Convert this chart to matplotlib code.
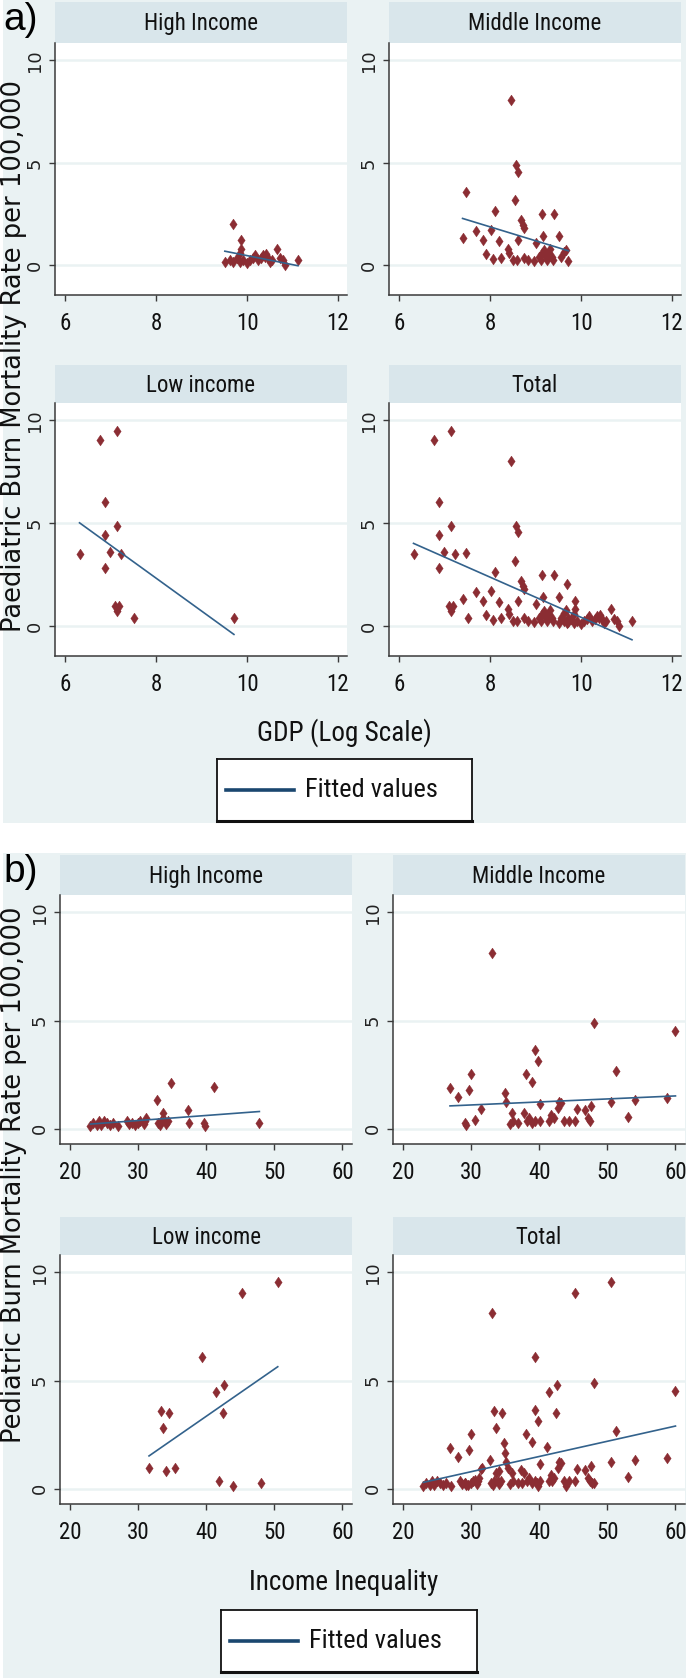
import numpy as np
import matplotlib
matplotlib.use("Agg")
import matplotlib.pyplot as plt
from matplotlib.patches import Rectangle
from matplotlib import font_manager as fm

# ---- data ----
# a) GDP (log scale) vs paediatric burn mortality
gdp_high_x = [9.69, 9.87, 9.86, 9.84, 9.51, 9.62, 9.69, 9.77, 9.84, 9.91, 9.99, 10.06, 10.13, 10.17,
              10.24, 10.31, 10.35, 10.39, 10.42, 10.46, 10.50, 10.54, 10.65, 10.72, 10.79, 10.83, 11.12]
gdp_high_y = [2.03, 1.22, 0.81, 0.57, 0.16, 0.24, 0.16, 0.33, 0.16, 0.24, 0.08, 0.24, 0.33, 0.49,
              0.24, 0.33, 0.49, 0.41, 0.53, 0.33, 0.16, 0.24, 0.81, 0.33, 0.24, 0.00, 0.24]
gdp_mid_x = [7.39, 7.47, 7.68, 7.83, 7.90, 8.01, 8.05, 8.10, 8.20, 8.23, 8.38, 8.42, 8.45, 8.49, 8.55,
             8.56, 8.60, 8.62, 8.58, 8.67, 8.72, 8.75, 8.75, 8.82, 8.97, 9.00, 9.08, 9.14, 9.16, 9.12,
             9.15, 9.19, 9.22, 9.25, 9.28, 9.32, 9.35, 9.38, 9.41, 9.52, 9.55, 9.62, 9.66, 9.72]
gdp_mid_y = [1.30, 3.55, 1.67, 1.22, 0.54, 1.71, 0.29, 2.65, 1.19, 0.37, 0.81, 0.57, 8.05, 0.24, 3.17,
             4.88, 1.22, 4.55, 0.24, 2.20, 1.95, 1.79, 0.37, 0.24, 0.21, 1.09, 0.41, 2.49, 1.41, 0.24,
             0.57, 0.75, 0.41, 0.24, 0.57, 0.80, 0.41, 0.24, 2.49, 1.41, 0.41, 0.65, 0.76, 0.21]
gdp_low_x = [6.31, 6.75, 6.88, 6.87, 6.88, 6.99, 7.13, 7.13, 7.23, 7.10, 7.17, 7.13, 7.51, 9.71]
gdp_low_y = [3.50, 9.06, 6.02, 4.44, 2.83, 3.58, 9.50, 4.86, 3.50, 0.96, 0.96, 0.72, 0.39, 0.39]
# fitted line end points: (x0, x1), (y0, y1)
gdp_fit = {
    "High Income": ([9.51, 11.12], [0.68, -0.03]),
    "Middle Income": ([7.39, 9.72], [2.28, 0.70]),
    "Low income": ([6.31, 9.71], [5.02, -0.41]),
    "Total": ([6.31, 11.12], [4.02, -0.67]),
}

# b) income inequality vs pediatric burn mortality
ineq_high_x = [23.0, 23.4, 23.9, 24.3, 24.6, 25.0, 25.4, 25.8, 26.3, 27.1, 28.3, 28.6, 29.1, 29.6, 30.0,
               30.3, 30.8, 31.0, 31.2, 32.7, 32.9, 33.2, 33.4, 33.7, 33.9, 34.1, 34.4, 34.8, 37.3, 37.5,
               39.6, 39.8, 41.2, 47.8]
ineq_high_y = [0.14, 0.26, 0.20, 0.34, 0.20, 0.34, 0.26, 0.20, 0.26, 0.14, 0.34, 0.22, 0.26, 0.18, 0.28,
               0.34, 0.22, 0.34, 0.50, 1.31, 0.26, 0.18, 0.34, 0.72, 0.34, 0.22, 0.34, 2.14, 0.85, 0.29,
               0.26, 0.14, 1.95, 0.29]
ineq_mid_x = [26.9, 28.0, 29.1, 29.3, 29.7, 30.0, 30.5, 31.4, 33.1, 35.0, 35.1, 35.7, 36.0, 36.2, 36.9,
              37.8, 38.0, 38.2, 38.5, 38.9, 38.9, 39.4, 39.4, 39.8, 40.1, 40.1, 41.4, 41.8, 42.2, 42.7,
              42.9, 43.2, 43.7, 44.3, 45.3, 45.6, 46.7, 47.1, 47.5, 47.6, 48.1, 50.5, 51.3, 53.0, 54.0,
              58.8, 60.0]
ineq_mid_y = [1.88, 1.46, 0.29, 0.18, 1.80, 2.52, 0.42, 0.91, 8.10, 1.65, 1.26, 0.22, 0.72, 0.34, 0.26,
              0.72, 2.52, 0.34, 0.49, 2.18, 0.26, 3.65, 0.34, 3.15, 1.15, 0.34, 0.34, 0.65, 0.49, 0.95,
              1.26, 1.18, 0.34, 0.34, 0.34, 0.91, 0.88, 0.49, 0.34, 1.06, 4.90, 1.26, 2.69, 0.54, 1.31,
              1.42, 4.52]
ineq_low_x = [50.5, 45.2, 39.4, 42.6, 41.5, 42.5, 33.3, 34.5, 33.6, 31.6, 34.1, 35.4, 41.9, 43.9, 48.1]
ineq_low_y = [9.55, 9.05, 6.07, 4.78, 4.47, 3.49, 3.59, 3.49, 2.80, 0.95, 0.82, 0.98, 0.36, 0.12, 0.28]
ineq_fit = {
    "High Income": ([23.0, 47.8], [0.22, 0.80]),
    "Middle Income": ([26.9, 60.0], [1.06, 1.52]),
    "Low income": ([31.6, 50.5], [1.52, 5.64]),
    "Total": ([23.0, 60.0], [0.30, 2.90]),
}

groups = ["High Income", "Middle Income", "Low income", "Total"]
gdp_ticks = [6, 8, 10, 12]
ineq_ticks = [20, 30, 40, 50, 60]
y_ticks = [0, 5, 10]

# ---- style ----
BG = "#EAF2F3"
STRIP = "#D9E6EB"
MARK = "#8B2D33"
LINE = "#33628C"
AXC = "#3a3a3a"
WIDE = "DejaVu Sans"
diamond = [(0, 1), (0.68, 0), (0, -1), (-0.68, 0), (0, 1)]


# look for a narrow / condensed sans face, otherwise shrink Liberation Sans
def find_narrow():
    prefs = ["Liberation Sans Narrow", "Arial Narrow", "Roboto Condensed", "Open Sans Condensed",
             "Noto Sans Condensed", "DejaVu Sans Condensed"]
    entries = fm.fontManager.ttflist
    for p in prefs:
        for f in entries:
            if f.name == p and f.style == "normal" and str(f.weight) in ("400", "normal", "regular"):
                return f.fname
    for f in entries:
        st = str(f.stretch)
        if st in ("condensed", "semi-condensed") and f.style == "normal" \
                and str(f.weight) in ("400", "normal", "regular") \
                and any(k in f.name for k in ("Liberation Sans", "DejaVu Sans", "Noto Sans", "Roboto", "Open Sans")) \
                and "Mono" not in f.name:
            return f.fname
    return None


NARROW_FILE = find_narrow()
SHRINK = 1.0 if NARROW_FILE else 0.84


def nfont(size):
    if NARROW_FILE:
        return fm.FontProperties(fname=NARROW_FILE, size=size)
    return fm.FontProperties(family="Liberation Sans", size=size * SHRINK)


W, H = 689, 1678
fig = plt.figure(figsize=(W / 100, H / 100), dpi=100)
fig.patch.set_facecolor("white")


def box(x0, y0, x1, y1):
    return [x0 / W, 1 - y1 / H, (x1 - x0) / W, (y1 - y0) / H]


def facet(cols, rows, data, fits, xlim, ylim, xticks):
    for k, g in enumerate(groups):
        c0, c1 = cols[k % 2]
        s0, p0, p1 = rows[k // 2]
        st = fig.add_axes(box(c0, s0, c1, p0))
        st.set_facecolor(STRIP)
        st.set_xticks([])
        st.set_yticks([])
        for sp in st.spines.values():
            sp.set_visible(False)
        st.text(0.5, 0.47, g, ha="center", va="center", fontproperties=nfont(16.5),
                color="#111111", transform=st.transAxes)

        ax = fig.add_axes(box(c0, p0, c1, p1))
        ax.set_facecolor("white")
        x, y = data[g]
        ax.plot(x, y, ls="none", marker=diamond, ms=7.8, mfc=MARK, mec=MARK, mew=0.3, zorder=3)
        fx, fy = fits[g]
        ax.plot(fx, fy, color=LINE, lw=1.2, zorder=4)
        ax.set_xlim(*xlim)
        ax.set_ylim(*ylim)
        ax.set_xticks(xticks)
        ax.set_xticklabels([str(t) for t in xticks], fontproperties=nfont(16.5), color="#111111")
        ax.set_yticks(y_ticks)
        ax.set_yticklabels([str(t) for t in y_ticks], family=WIDE, fontsize=13, color="#222222",
                           rotation=90, va="center")
        ax.grid(axis="y", color=BG, lw=1.8)
        ax.set_axisbelow(True)
        for sp in ["top", "right"]:
            ax.spines[sp].set_visible(False)
        for sp in ["left", "bottom"]:
            ax.spines[sp].set_color(AXC)
            ax.spines[sp].set_linewidth(1.1)
        ax.tick_params(axis="x", direction="out", length=4, width=1, color=AXC, pad=8)
        ax.tick_params(axis="y", direction="out", length=4, width=1, color=AXC, pad=4)


def legend_box(x0, y0, x1, y1):
    lg = fig.add_axes(box(x0, y0, x1, y1))
    lg.set_facecolor("white")
    lg.set_xticks([])
    lg.set_yticks([])
    for sp in lg.spines.values():
        sp.set_color("#111111")
        sp.set_linewidth(1.3)
    lg.spines["bottom"].set_linewidth(2.2)
    lg.set_xlim(0, 1)
    lg.set_ylim(0, 1)
    lg.plot([0.035, 0.30], [0.5, 0.5], color="#1A476F", lw=2.6)
    lg.text(0.345, 0.5, "Fitted values", ha="left", va="center", fontproperties=nfont(19),
            color="#111111")


# backgrounds behind everything
fig.patches.append(Rectangle((3 / W, 1 - 823 / H), 683 / W, 823 / H, transform=fig.transFigure,
                             facecolor=BG, edgecolor="none", zorder=-5))
fig.patches.append(Rectangle((3 / W, 0), 683 / W, 1 - 853 / H, transform=fig.transFigure,
                             facecolor=BG, edgecolor="none", zorder=-5))

# panel a
gdp_data = {
    "High Income": (gdp_high_x, gdp_high_y),
    "Middle Income": (gdp_mid_x, gdp_mid_y),
    "Low income": (gdp_low_x, gdp_low_y),
    "Total": (np.concatenate([gdp_high_x, gdp_mid_x, gdp_low_x]),
              np.concatenate([gdp_high_y, gdp_mid_y, gdp_low_y])),
}
facet([(55, 347), (389, 681)], [(2, 43, 295), (365, 403, 656)], gdp_data, gdp_fit,
      (5.77, 12.2), (-1.46, 10.85), gdp_ticks)
fig.text(3 / W, 1 - 20 / H, "a)", ha="left", va="center", fontsize=28, family="Liberation Sans")
fig.text(14 / W, 1 - 356 / H, "Paediatric Burn Mortality Rate per 100,000", rotation=90,
         ha="center", va="center", fontsize=18.5, family=WIDE, color="#111111")
fig.text(344 / W, 1 - 733 / H, "GDP (Log Scale)", ha="center", va="center",
         fontproperties=nfont(19.5), color="#111111")
legend_box(217, 759, 472, 821)

# panel b
ineq_data = {
    "High Income": (ineq_high_x, ineq_high_y),
    "Middle Income": (ineq_mid_x, ineq_mid_y),
    "Low income": (ineq_low_x, ineq_low_y),
    "Total": (np.concatenate([ineq_high_x, ineq_mid_x, ineq_low_x]),
              np.concatenate([ineq_high_y, ineq_mid_y, ineq_low_y])),
}
facet([(60, 352), (393, 685)], [(855, 895, 1144), (1217, 1255, 1504)], ineq_data, ineq_fit,
      (18.53, 61.4), (-0.7, 10.8), ineq_ticks)
fig.text(3 / W, 1 - 872 / H, "b)", ha="left", va="center", fontsize=28, family="Liberation Sans")
fig.text(14 / W, 1 - 1175 / H, "Pediatric Burn Mortality Rate per 100,000", rotation=90,
         ha="center", va="center", fontsize=18.5, family=WIDE, color="#111111")
fig.text(344 / W, 1 - 1583 / H, "Income Inequality", ha="center", va="center",
         fontproperties=nfont(19.5), color="#111111")
legend_box(221, 1610, 477, 1672)

fig.savefig("out.png", dpi=100, facecolor="white")
